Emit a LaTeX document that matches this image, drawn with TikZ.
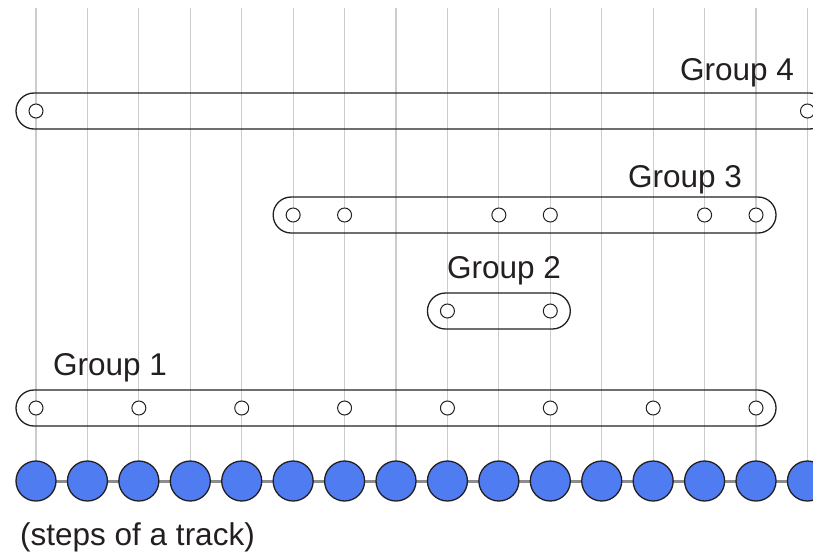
\documentclass[tikz,border=0pt]{standalone}
\usepackage{fontspec}
\setmainfont{Liberation Sans}
\definecolor{ink}{HTML}{231F20}
\definecolor{gridgray}{HTML}{CCCCCC}
\definecolor{stepblue}{HTML}{507CF2}
\definecolor{trackgray}{HTML}{8C8C8C}
\begin{document}
\begin{tikzpicture}[x=1pt,y=-1pt,
  gridline/.style={draw=gridgray, line width=1.2pt},
  bar/.style={draw=ink, line width=1.3pt, rounded corners=18pt},
  hole/.style={circle, draw=ink, line width=1pt, minimum size=14pt, inner sep=0pt, fill=white},
  stepdot/.style={circle, draw=ink, line width=1.3pt, fill=stepblue, minimum size=40pt, inner sep=0pt},
  lbl/.style={anchor=base west, inner sep=0pt, font=\fontsize{31.5}{32}\selectfont, text=ink}]
\useasboundingbox (0,0) rectangle (813,555);
\clip (0,0) rectangle (813,555);
% column coordinates
\foreach \i in {0,...,15} {
  \coordinate (top\i) at ({36+51.43*\i},8);
  \coordinate (c\i) at ({36+51.43*\i},481);
}
% grid lines
\foreach \i in {0,...,15} { \draw[gridline] (top\i) -- (c\i); }
% track line
\draw[draw=trackgray, line width=3pt] (c0) -- (c15);
% track steps
\foreach \i in {0,...,15} { \node[stepdot] (t\i) at (c\i) {}; }
\node[lbl, anchor=base west] (steps) at (20,545) {(steps of a track)};

% Group 1 (y=408)
\draw[bar] ({36-20},390) rectangle ({36+51.43*14+20},426);
\foreach \i in {0,2,4,6,8,10,12,14} { \node[hole] (ga\i) at ({36+51.43*\i},408) {}; }
\node[lbl] (lab1) at (53,375) {Group 1};

% Group 2 (y=311)
\draw[bar] ({36+51.43*8-20},293) rectangle ({36+51.43*10+20},329);
\foreach \i in {8,10} { \node[hole] (gb\i) at ({36+51.43*\i},311) {}; }
\node[lbl] (lab2) at (447,278) {Group 2};

% Group 3 (y=215)
\draw[bar] ({36+51.43*5-20},197) rectangle ({36+51.43*14+20},233);
\foreach \i in {5,6,9,10,13,14} { \node[hole] (gc\i) at ({36+51.43*\i},215) {}; }
\node[lbl] (lab3) at (628,187) {Group 3};

% Group 4 (y=111)
\draw[bar] ({36-20},93) rectangle ({36+51.43*15+20},129);
\foreach \i in {0,15} { \node[hole] (gd\i) at ({36+51.43*\i},111) {}; }
\node[lbl] (lab4) at (680,80) {Group 4};
\end{tikzpicture}
\end{document}
